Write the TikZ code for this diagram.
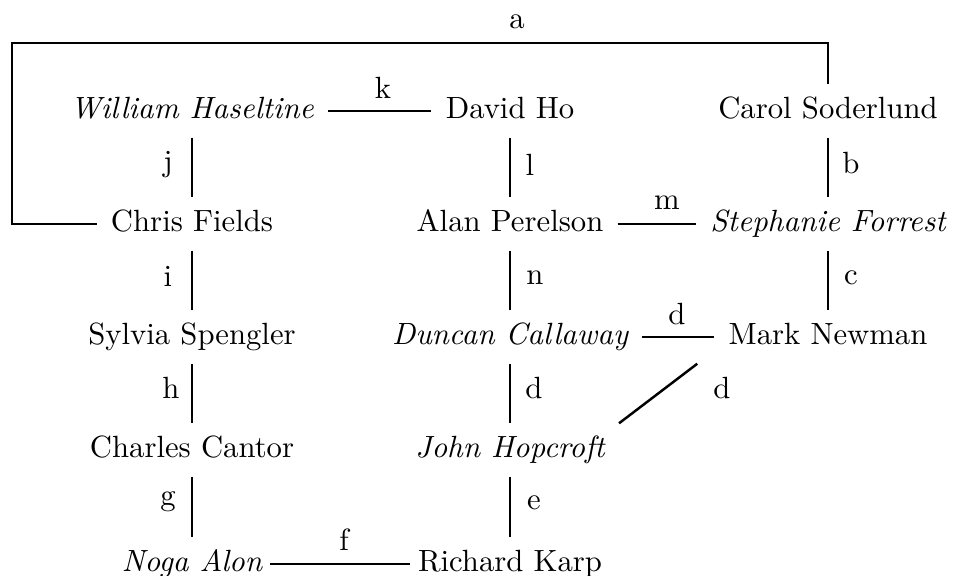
\documentclass[tikz,border=0pt]{standalone}
\begin{document}
\begin{tikzpicture}[x=0.3257pt,y=-0.3257pt,
  person/.style={inner xsep=4.5pt, inner ysep=0pt, minimum height=17pt, text height=6.9pt, text depth=1.9pt},
  lbl/.style={inner sep=0pt},
  link/.style={line width=0.8pt}]
\useasboundingbox (0,0) rectangle (959,575);
% people
\node[person] (wh) at (192,111) {\itshape William Haseltine};
\node[person] (dh) at (510,111) {David Ho};
\node[person] (cs) at (828,111) {Carol Soderlund};
\node[person] (cf) at (192,224) {Chris Fields};
\node[person] (ap) at (510,224) {Alan Perelson};
\node[person] (sf) at (828,224) {\itshape Stephanie Forrest};
\node[person] (ss) at (192,337) {Sylvia Spengler};
\node[person] (dc) at (510,337) {\itshape Duncan Callaway};
\node[person] (mn) at (828,337) {Mark Newman};
\node[person] (cc) at (192,450) {Charles Cantor};
\node[person] (jh) at (510,450) {\itshape John Hopcroft};
\node[person] (na) at (192,564) {\itshape Noga Alon};
\node[person] (rk) at (510,564) {Richard Karp};
\coordinate (a1) at (12,43);
% connectors
\draw[link] (cs.north) |- (a1) |- (cf.west);
\draw[link] (wh) -- (dh);
\draw[link] (wh) -- (cf);
\draw[link] (dh) -- (ap);
\draw[link] (cs) -- (sf);
\draw[link] (ap) -- (sf);
\draw[link] (cf) -- (ss);
\draw[link] (ap) -- (dc);
\draw[link] (sf) -- (mn);
\draw[link] (dc) -- (mn);
\draw[link] (ss) -- (cc);
\draw[link] (dc) -- (jh);
\draw[link] ([xshift=-5.5pt]mn.south west) -- (jh.north east);
\draw[link] (cc) -- (na);
\draw[link] (jh) -- (rk);
\draw[link] ([xshift=-2pt]na.east) -- ([xshift=2pt]rk.west);
% labels
\node[lbl] (la) at (517,22) {a};
\node[lbl] (lk) at (383,88) {k};
\node[lbl] (lj) at (168,165) {j};
\node[lbl] (ll) at (530,165) {l};
\node[lbl] (lb) at (851,163) {b};
\node[lbl] (lm) at (667,203) {m};
\node[lbl] (li) at (168,276) {i};
\node[lbl] (ln) at (535,278) {n};
\node[lbl] (lc) at (851,278) {c};
\node[lbl] (ld1) at (677,314) {d};
\node[lbl] (lh) at (171,388) {h};
\node[lbl] (ld2) at (534,388) {d};
\node[lbl] (ld3) at (722,388) {d};
\node[lbl] (lg) at (168,502) {g};
\node[lbl] (le) at (534,503) {e};
\node[lbl] (lf) at (344,540) {f};
\end{tikzpicture}
\end{document}
